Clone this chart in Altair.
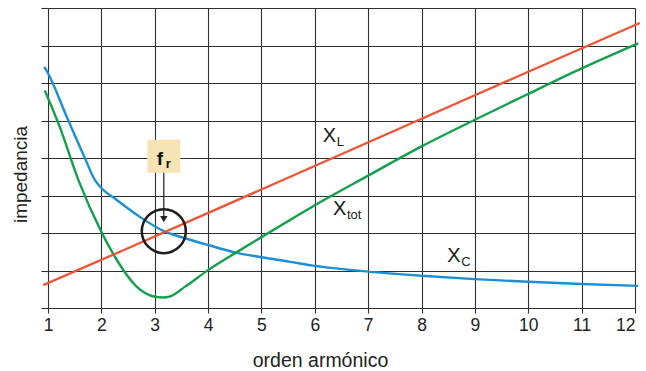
import altair as alt
import pandas as pd

# Harmonic order (h) and reactance readings for each curve
h_xl = [0.91, 2.22, 5.54, 10.0, 12.09]
v_xl = [0.61, 1.42, 3.50, 6.30, 7.60]

h_xc = [0.93, 1.0, 1.35, 1.69, 1.88, 2.0, 2.29, 2.72, 3.17, 3.57, 4.0, 4.54,
        4.97, 5.54, 5.97, 7.0, 8.0, 9.0, 10.0, 11.0, 12.06]
v_xc = [6.43, 6.26, 5.10, 4.00, 3.41, 3.20, 2.88, 2.43, 2.05, 1.86, 1.68, 1.47,
        1.36, 1.23, 1.13, 0.97, 0.86, 0.77, 0.70, 0.64, 0.59]

h_xtot = [0.94, 1.22, 1.57, 2.0, 2.29, 2.66, 3.0, 3.15, 3.29, 3.57, 4.0, 4.54,
          5.0, 5.54, 6.0, 7.0, 8.0, 9.0, 10.0, 11.0, 12.06]
v_xtot = [5.80, 4.83, 3.41, 2.03, 1.28, 0.57, 0.30, 0.28, 0.31, 0.57, 1.01, 1.49,
          1.89, 2.35, 2.74, 3.53, 4.31, 5.02, 5.71, 6.39, 7.06]

# Curve labels: main letter, subscript, anchor position
lab_main = ["X", "X", "X"]
lab_sub = ["L", "tot", "C"]
lab_h = [6.15, 6.34, 8.48]
lab_v = [4.43, 2.48, 1.23]

# Resonance marker
res_h = [3.17]
res_v = [2.05]
box_v = [4.05]
arrow_top = [3.63]
arrow_tip = [2.37]

RED = "#ee5537"
BLUE = "#1b8fd6"
GREEN = "#13a04c"
GRID = "#2e2e2e"
FONT = "Liberation Sans"

xl_df = pd.DataFrame({"h": h_xl, "v": v_xl})
xc_df = pd.DataFrame({"h": h_xc, "v": v_xc})
xt_df = pd.DataFrame({"h": h_xtot, "v": v_xtot})
lab_df = pd.DataFrame({"main": lab_main, "sub": lab_sub, "h": lab_h, "v": lab_v})
res_df = pd.DataFrame({"h": res_h, "v": res_v, "vb": box_v,
                       "vt": arrow_top, "vtip": arrow_tip})

xscale = alt.Scale(domain=[1, 12], nice=False, zero=False)
yscale = alt.Scale(domain=[0, 8], nice=False, zero=False)

x_axis = alt.Axis(
    values=list(range(1, 13)), grid=True, gridColor=GRID, gridWidth=1.1,
    domain=False, ticks=True, tickSize=5, tickColor=GRID, tickWidth=1.1,
    labelFont=FONT, labelFontSize=17.5, labelColor="#222222", labelPadding=3,
    labelAlign={"expr": "datum.value == 12 ? 'right' : 'center'"},
    title="orden armónico", titleFont=FONT, titleFontSize=19.5,
    titleFontWeight="normal", titleColor="#222222",
    titleX=272, titleY=58, titleAlign="center", titleBaseline="alphabetic",
)
y_axis = alt.Axis(
    values=list(range(0, 9)), grid=True, gridColor=GRID, gridWidth=1.1,
    domain=False, labels=False, ticks=True, tickSize=7, tickColor=GRID, tickWidth=1.1,
    title="impedancia", titleFont=FONT, titleFontSize=19,
    titleFontWeight="normal", titleColor="#222222",
    titleX=-28, titleY=166, titleAngle=-90, titleAlign="center",
    titleBaseline="middle",
)


def xenc(field="h"):
    return alt.X(f"{field}:Q", scale=xscale, axis=x_axis)


def yenc(field="v"):
    return alt.Y(f"{field}:Q", scale=yscale, axis=y_axis)


xc_line = alt.Chart(xc_df).mark_line(
    color=BLUE, strokeWidth=2.4, interpolate="monotone"
).encode(x=xenc(), y=yenc())

xt_line = alt.Chart(xt_df).mark_line(
    color=GREEN, strokeWidth=2.4, interpolate="monotone"
).encode(x=xenc(), y=yenc())

xl_line = alt.Chart(xl_df).mark_line(
    color=RED, strokeWidth=2.4
).encode(x=xenc(), y=yenc())

main_txt = alt.Chart(lab_df).mark_text(
    font=FONT, fontSize=20, align="left", baseline="alphabetic", color="#1a1a1a"
).encode(x=xenc(), y=yenc(), text="main:N")

sub_txt = alt.Chart(lab_df).mark_text(
    font=FONT, fontSize=13, align="left", baseline="alphabetic", color="#1a1a1a",
    dx=14, dy=4
).encode(x=xenc(), y=yenc(), text="sub:N")

ring = alt.Chart(res_df).mark_point(
    shape="circle", size=1936, filled=False, stroke="#1e1e1e", strokeWidth=2.5,
    opacity=1
).encode(x=xenc(), y=yenc())

box = alt.Chart(res_df).mark_square(
    size=1089, color="#f6e3b3", opacity=1
).encode(x=xenc(), y=yenc("vb"))

arrow_line = alt.Chart(res_df).mark_rule(
    color="#2a2a2a", strokeWidth=1.3
).encode(x=xenc(), y=yenc("vt"), y2="vtip:Q")

arrow_head = alt.Chart(res_df).mark_point(
    shape="triangle-down", size=55, filled=True, color="#1e1e1e", opacity=1
).encode(x=xenc(), y=yenc("vtip"))

fr_main = alt.Chart(res_df).mark_text(
    font=FONT, fontSize=19, fontWeight="bold", align="center",
    baseline="alphabetic", color="#111111", dx=-4, dy=9, text="f"
).encode(x=xenc(), y=yenc("vb"))

fr_sub = alt.Chart(res_df).mark_text(
    font=FONT, fontSize=13, fontWeight="bold", align="left",
    baseline="alphabetic", color="#111111", dx=2, dy=12, text="r"
).encode(x=xenc(), y=yenc("vb"))

chart = alt.layer(
    xc_line, xt_line, xl_line, main_txt, sub_txt,
    arrow_line, arrow_head, ring, box, fr_main, fr_sub
).properties(
    width=587, height=300,
    padding={"left": 48, "top": 8, "right": 11, "bottom": 63},
    autosize="none", background="white"
).configure_view(stroke=None)

chart.save("out.html", embed_options={"renderer": "svg", "actions": False})
